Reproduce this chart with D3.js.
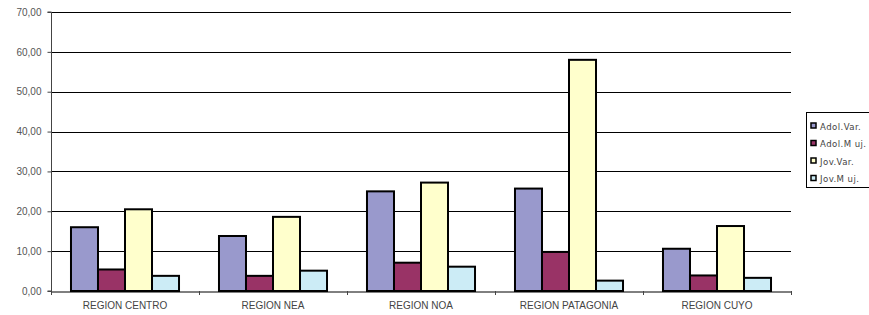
<!DOCTYPE html>
<html>
<head>
<meta charset="utf-8">
<script src="https://cdn.jsdelivr.net/npm/d3@7"></script>
<style>
  body { margin: 0; background: #fff; }
  svg { display: block; font-family: "DejaVu Sans Condensed", "Liberation Sans", sans-serif; }
</style>
</head>
<body>
<figure id="chart" style="margin:0"></figure>
<script>
// Data
const regions = ["REGION CENTRO", "REGION NEA", "REGION NOA", "REGION PATAGONIA", "REGION CUYO"];
const seriesNames = ["Adol.Var.", "Adol.M uj.", "Jov.Var.", "Jov.M uj."];
const adolVar = [16.0, 13.8, 25.0, 25.7, 10.6];
const adolMuj = [5.4, 3.8, 7.1, 9.8, 3.9];
const jovVar = [20.5, 18.6, 27.2, 58.0, 16.3];
const jovMuj = [3.8, 5.1, 6.1, 2.6, 3.3];
const yTicks = [0, 10, 20, 30, 40, 50, 60, 70];

const colours = ["#9999CC", "#993366", "#FFFFCC", "#CCECF6"];
const seriesValues = [adolVar, adolMuj, jovVar, jovMuj];

const width = 869, height = 315;
const plot = {left: 51, right: 791, top: 12, bottom: 291};

const svg = d3.select("#chart").append("svg")
  .attr("width", width).attr("height", height);

const x0 = d3.scaleBand().domain(regions).range([plot.left, plot.right]).paddingInner(0).paddingOuter(0);
const x1 = d3.scaleBand().domain(seriesNames).range([0, x0.bandwidth()]).paddingInner(0).paddingOuter(0.74);
const y = d3.scaleLinear().domain([0, 70]).range([plot.bottom, plot.top]);

// gridlines
svg.append("g")
  .selectAll("line")
  .data(yTicks.slice(1))
  .enter().append("line")
    .attr("x1", plot.left).attr("x2", plot.right)
    .attr("y1", d => Math.round(y(d)) + 0.5).attr("y2", d => Math.round(y(d)) + 0.5)
    .attr("stroke", "#000").attr("stroke-width", 1);

// bars
const rows = regions.map((r, i) => ({region: r, values: seriesValues.map((s, j) => ({name: seriesNames[j], v: s[i], c: colours[j]}))}));
svg.append("g")
  .selectAll("g")
  .data(rows)
  .enter().append("g")
    .attr("transform", d => `translate(${x0(d.region)},0)`)
  .selectAll("rect")
  .data(d => d.values)
  .enter().append("rect")
    .attr("x", d => x1(d.name))
    .attr("y", d => y(d.v))
    .attr("width", x1.bandwidth())
    .attr("height", d => y(0) - y(d.v))
    .attr("fill", d => d.c)
    .attr("stroke", "#000")
    .attr("stroke-width", 2);

// y axis
const yAxis = svg.append("g")
  .attr("transform", `translate(${plot.left + 0.5},0)`)
  .call(d3.axisLeft(y).tickValues(yTicks).tickSize(4).tickPadding(6)
    .tickFormat(d => d3.format(".2f")(d).replace(".", ",")));
yAxis.select(".domain").attr("stroke", "#444").attr("d", `M-4,${plot.top}H0V${plot.bottom}H-4`);
yAxis.selectAll(".tick line").attr("stroke", "#444");
yAxis.selectAll("text").attr("fill", "#555").style("font-size", "10px");

// x axis
const xAxis = svg.append("g")
  .attr("transform", `translate(0,${plot.bottom + 0.5})`)
  .call(d3.axisBottom(x0).tickSize(0).tickPadding(10));
xAxis.select(".domain").attr("stroke", "#000");
xAxis.selectAll("text").attr("fill", "#444").style("font-size", "10px");
// boundary ticks between categories
svg.append("g")
  .selectAll("line")
  .data(regions.map(r => x0(r)).concat([plot.right]))
  .enter().append("line")
    .attr("x1", d => Math.round(d) + 0.5).attr("x2", d => Math.round(d) + 0.5)
    .attr("y1", plot.bottom).attr("y2", plot.bottom + 4)
    .attr("stroke", "#444");

// legend
const legend = svg.append("g").attr("transform", "translate(806.5,112.5)");
legend.append("rect")
  .attr("width", 70).attr("height", 75)
  .attr("fill", "#fff").attr("stroke", "#000");
const item = legend.selectAll("g.item")
  .data(seriesNames)
  .enter().append("g")
    .attr("class", "item")
    .attr("transform", (d, i) => `translate(0,${13.5 + i * 17.5})`);
item.append("rect")
  .attr("x", 4.5).attr("y", -3)
  .attr("width", 5).attr("height", 5)
  .attr("fill", (d, i) => colours[i])
  .attr("stroke", "#000").attr("stroke-width", 1.5);
item.append("text")
  .attr("x", 13.5).attr("y", 3.5)
  .attr("fill", "#444")
  .style("font-size", "9.5px")
  .style("letter-spacing", "0.45px")
  .text(d => d);
</script>
</body>
</html>
